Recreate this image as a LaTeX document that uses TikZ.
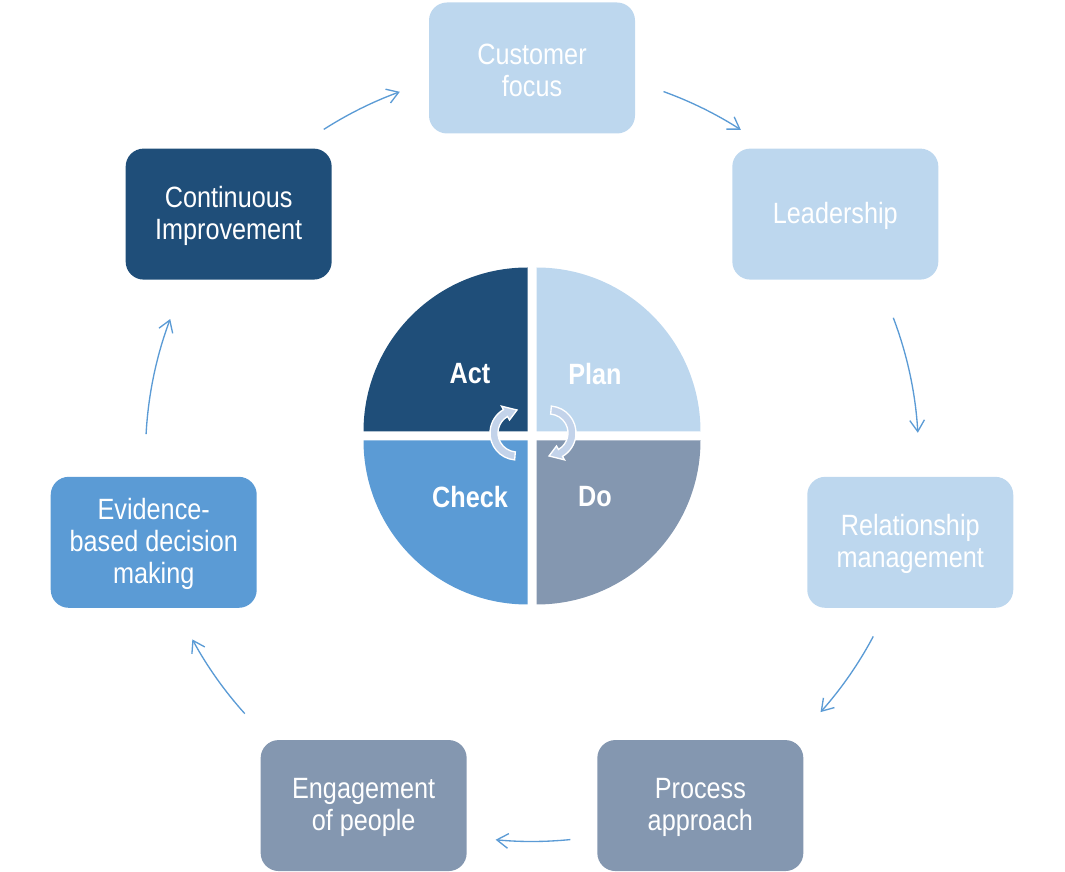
\documentclass[tikz,border=0pt]{standalone}
\usepackage{fontspec}
\setmainfont{Liberation Sans}[FakeStretch=0.86]
\usetikzlibrary{arrows.meta,calc}

\definecolor{pale}{HTML}{BDD7EE}
\definecolor{navy}{HTML}{1F4E79}
\definecolor{midblue}{HTML}{5B9BD5}
\definecolor{slate}{HTML}{8497B0}
\definecolor{swirlfill}{HTML}{C3D3EA}

\tikzset{
  stagebox/.style={rounded corners=13.5pt, minimum width=154.5pt, minimum height=98.25pt,
    inner sep=0pt},
  stagetext/.style={align=center, text=white, font=\fontsize{22}{24}\selectfont},
  ringarrow/.style={draw=midblue, line width=1pt, -{Straight Barb[length=8.5pt,width=11pt]}},
  pdca/.style={text=white, font=\fontsize{22}{24}\selectfont\bfseries}
}

% name, angle, colour, text
\newcommand{\stage}[4]{
    \node[stagebox, fill=#3] (#1) at ($(ring)+(#2:388)$) {};
    \node[stagetext] (#1 text) at ([yshift=-1.5pt]#1.center) {#4};
}
% corner x, corner y, start angle, colour
\newcommand{\quarter}[4]{
    \fill[#4] (#1,#2) -- ++(#3:164) arc[start angle=#3, end angle=#3+90, radius=164] -- cycle;
}
% centre, rotation
\newcommand{\swirl}[2]{
    \filldraw[fill=swirlfill, draw=white, line width=1pt, shift={#1}, rotate=#2]
      (265:27) arc[start angle=265, end angle=120, radius=27] -- (120:31) -- (90:23)
      -- (120:15) -- (120:19) arc[start angle=120, end angle=265, radius=19] -- cycle;
}

\begin{document}
\begin{tikzpicture}[x=0.75pt, y=0.75pt]

  \useasboundingbox (0,0) rectangle (1065,872);
  \coordinate (ring) at (532,416);

  % outer cycle
  \stage{customer}{90}{pale}{Customer\\focus}
  \stage{leader}{38.571}{pale}{Leadership}
  \stage{relation}{-12.857}{pale}{Relationship\\management}
  \stage{process}{-64.286}{slate}{Process\\approach}
  \stage{people}{-115.714}{slate}{Engagement\\of people}
  \stage{evidence}{-167.143}{midblue}{Evidence-\\based decision\\making}
  \stage{improve}{141.429}{navy}{Continuous\\Improvement}

  \foreach \a/\b [count=\i] in {70.1/57.3, 20.8/3.3, -28.0/-41.7, -84.3/-95.4,
                                 -138.0/-151.5, 176.9/159.4, 122.6/110.0}{
    \coordinate (arc\i) at ($(ring)+(0,1)+(\a:386.5)$);
    \draw[ringarrow] (arc\i) arc[start angle=\a, end angle=\b, radius=386.5];
  }

  % PDCA wheel
  \quarter{536.5}{440.5}{0}{pale}
  \quarter{527.5}{440.5}{90}{navy}
  \quarter{527.5}{431.5}{180}{midblue}
  \quarter{536.5}{431.5}{270}{slate}

  \node[pdca] (act) at (470,498) {Act};
  \node[pdca] (plan) at (595,498) {Plan};
  \node[pdca] (check) at (470,375) {Check};
  \node[pdca] (do) at (595,375) {Do};

  \swirl{(517,439)}{0}
  \swirl{(549,439)}{180}

\end{tikzpicture}
\end{document}
